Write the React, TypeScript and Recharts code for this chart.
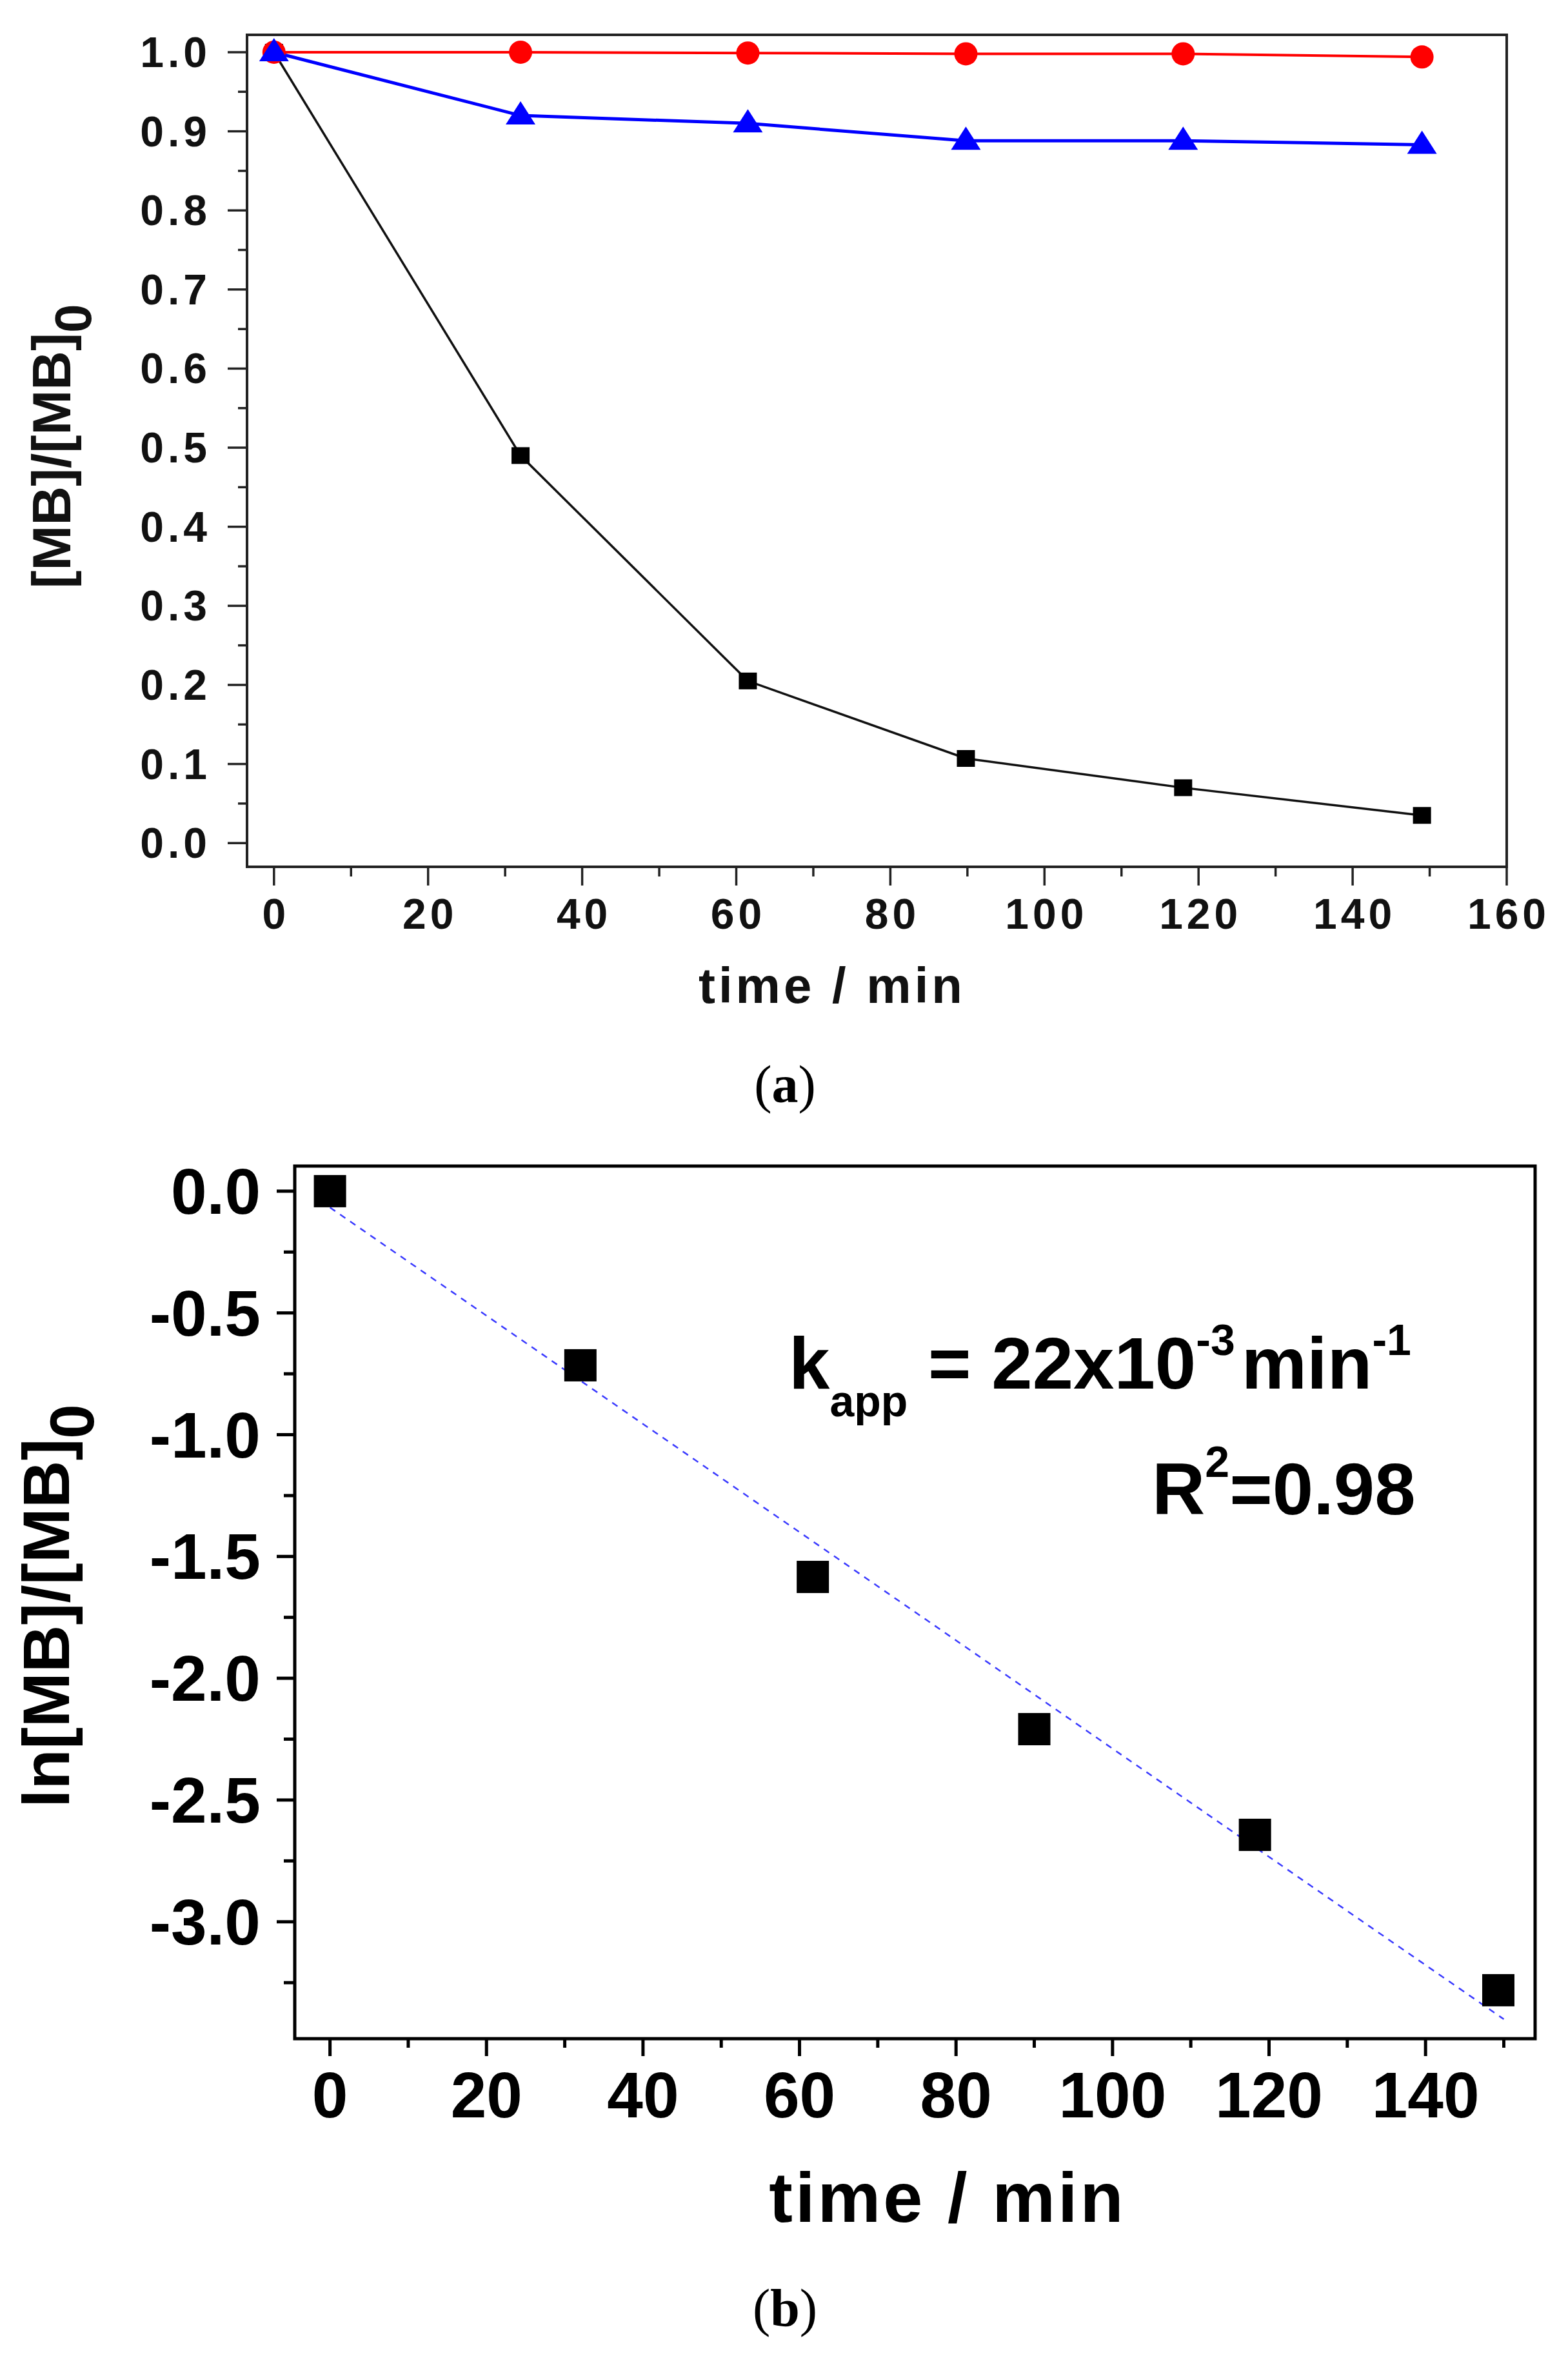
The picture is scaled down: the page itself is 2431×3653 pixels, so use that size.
import {
  LineChart,
  ComposedChart,
  Line,
  Scatter,
  XAxis,
  YAxis,
  ReferenceArea,
} from 'recharts';

// ---- panel (a): [MB]/[MB]0 vs time ----
const timeA = [0, 32, 61.5, 89.8, 118, 149];
const mbBlack = [1.0, 0.49, 0.205, 0.107, 0.07, 0.035];
const mbRed = [1.0, 1.0, 0.999, 0.998, 0.998, 0.994];
const mbBlue = [1.0, 0.92, 0.91, 0.888, 0.888, 0.883];
const xTicksA = [0, 10, 20, 30, 40, 50, 60, 70, 80, 90, 100, 110, 120, 130, 140, 150, 160];
const yTicksA = [
  0, 0.05, 0.1, 0.15, 0.2, 0.25, 0.3, 0.35, 0.4, 0.45, 0.5,
  0.55, 0.6, 0.65, 0.7, 0.75, 0.8, 0.85, 0.9, 0.95, 1.0,
];

// ---- panel (b): ln([MB]/[MB]0) vs time ----
const timeB = [0, 32, 61.7, 90, 118.2, 149.3];
const lnMb = [0, -0.715, -1.584, -2.209, -2.643, -3.281];
const fitT = [0, 150];
const fitLn = [-0.067, -3.4];
const xTicksB = [0, 10, 20, 30, 40, 50, 60, 70, 80, 90, 100, 110, 120, 130, 140, 150];
const yTicksB = [
  0, -0.25, -0.5, -0.75, -1.0, -1.25, -1.5, -1.75, -2.0,
  -2.25, -2.5, -2.75, -3.0, -3.25,
];

const dataA = timeA.map((t, i) => ({ t, black: mbBlack[i], red: mbRed[i], blue: mbBlue[i] }));
const dataB = timeB.map((t, i) => ({ t, ln: lnMb[i] }));
const fitB = fitT.map((t, i) => ({ t, ln: fitLn[i] }));

const SANS = '"Liberation Sans", Arial, sans-serif';
const SERIF = '"Liberation Serif", "Times New Roman", serif';

const domAx: [number, number] = [-3.5, 160];
const domAy: [number, number] = [-0.03, 1.022];
const domBx: [number, number] = [-4.5, 154];
const domBy: [number, number] = [-3.48, 0.103];

function XTickA(p: any) {
  const { x, y, payload } = p;
  const major = payload.value % 20 === 0;
  return (
    <g>
      <line x1={x} x2={x} y1={y} y2={y + (major ? 29 : 15)} stroke="#222" strokeWidth={3.5} />
      {major && (
        <text x={x + 3} y={y + 96} textAnchor="middle" fontFamily={SANS} fontWeight="bold"
          fontSize={66} letterSpacing={6} fill="#111">
          {payload.value}
        </text>
      )}
    </g>
  );
}

function YTickA(p: any) {
  const { x, y, payload } = p;
  const major = Math.round(payload.value * 100) % 10 === 0;
  return (
    <g>
      <line x1={x} x2={x - (major ? 30 : 14)} y1={y} y2={y} stroke="#222" strokeWidth={3.5} />
      {major && (
        <text x={x - 56} y={y + 23} textAnchor="end" fontFamily={SANS} fontWeight="bold"
          fontSize={66} letterSpacing={6} fill="#111">
          {payload.value.toFixed(1)}
        </text>
      )}
    </g>
  );
}

function XTickB(p: any) {
  const { x, y, payload } = p;
  const major = payload.value % 20 === 0;
  return (
    <g>
      <line x1={x} x2={x} y1={y} y2={y + (major ? 27 : 14)} stroke="#000" strokeWidth={5} />
      {major && (
        <text x={x} y={y + 122} textAnchor="middle" fontFamily={SANS} fontWeight="bold"
          fontSize={100} fill="#000">
          {payload.value}
        </text>
      )}
    </g>
  );
}

function YTickB(p: any) {
  const { x, y, payload } = p;
  const major = Math.round(payload.value * 100) % 50 === 0;
  return (
    <g>
      <line x1={x} x2={x - (major ? 28 : 17)} y1={y} y2={y} stroke="#000" strokeWidth={5} />
      {major && (
        <text x={x - 53} y={y + 35} textAnchor="end" fontFamily={SANS} fontWeight="bold"
          fontSize={100} fill="#000">
          {payload.value.toFixed(1)}
        </text>
      )}
    </g>
  );
}

const squareDot = (p: any) => (
  <rect key={`sq-${p.index}`} x={p.cx - 14} y={p.cy - 13} width={28} height={26} fill="#000" />
);
const circleDot = (p: any) => (
  <circle key={`ci-${p.index}`} cx={p.cx} cy={p.cy} r={18} fill="#ff0000" />
);
const triangleDot = (p: any) => (
  <polygon
    key={`tr-${p.index}`}
    points={`${p.cx},${p.cy - 22} ${p.cx - 23},${p.cy + 14} ${p.cx + 23},${p.cy + 14}`}
    fill="#0000ff"
  />
);
const bigSquare = (p: any) => (
  <rect x={p.cx - 25} y={p.cy - 25} width={50} height={50} fill="#000" />
);

export default function App() {
  return (
    <div style={{ position: 'absolute', left: 0, top: 0, width: 2431, height: 3653, background: '#fff' }}>
      {/* (a) */}
      <div style={{ position: 'absolute', left: 0, top: 0 }}>
        <LineChart width={2431} height={1750} data={dataA} margin={{ top: 54, right: 95, left: 0, bottom: 0 }}>
          <XAxis dataKey="t" type="number" domain={domAx} ticks={xTicksA} interval={0}
            axisLine={false} tickLine={false} tickSize={0} tickMargin={0} height={406} tick={<XTickA />} />
          <YAxis type="number" domain={domAy} ticks={yTicksA} interval={0}
            axisLine={false} tickLine={false} tickSize={0} tickMargin={0} width={383} tick={<YTickA />} />
          <ReferenceArea x1={domAx[0]} x2={domAx[1]} y1={domAy[0]} y2={domAy[1]}
            fill="none" stroke="#222" strokeWidth={4} ifOverflow="visible" />
          <Line dataKey="black" type="linear" stroke="#111" strokeWidth={3.5}
            dot={squareDot} activeDot={false} isAnimationActive={false} />
          <Line dataKey="red" type="linear" stroke="#ff0000" strokeWidth={4}
            dot={circleDot} activeDot={false} isAnimationActive={false} />
          <Line dataKey="blue" type="linear" stroke="#0000ff" strokeWidth={5}
            dot={triangleDot} activeDot={false} isAnimationActive={false} />
        </LineChart>
      </div>

      {/* (b) */}
      <div style={{ position: 'absolute', left: 0, top: 1750 }}>
        <ComposedChart width={2431} height={1903} margin={{ top: 58, right: 51, left: 0, bottom: 0 }}>
          <XAxis dataKey="t" type="number" domain={domBx} ticks={xTicksB} interval={0}
            axisLine={false} tickLine={false} tickSize={0} tickMargin={0} height={492} tick={<XTickB />} />
          <YAxis type="number" domain={domBy} ticks={yTicksB} interval={0}
            axisLine={false} tickLine={false} tickSize={0} tickMargin={0} width={457} tick={<YTickB />} />
          <ReferenceArea x1={domBx[0]} x2={domBx[1]} y1={domBy[0]} y2={domBy[1]}
            fill="none" stroke="#000" strokeWidth={5} ifOverflow="visible" />
          <Scatter data={dataB} dataKey="ln" shape={bigSquare} isAnimationActive={false} />
          <Line data={fitB} dataKey="ln" type="linear" stroke="#3a3aff" strokeWidth={2.5}
            strokeDasharray="10 9" dot={false} activeDot={false} isAnimationActive={false} />
        </ComposedChart>
      </div>

      {/* labels */}
      <svg width={2431} height={3653} style={{ position: 'absolute', left: 0, top: 0, pointerEvents: 'none' }}>
        <text transform="translate(109,692) rotate(-90)" textAnchor="middle" fontFamily={SANS}
          fontWeight="bold" fontSize={84} fill="#111">
          [MB]/[MB]<tspan fontSize={80} dy={32}>0</tspan>
        </text>
        <text x={1290} y={1555} textAnchor="middle" fontFamily={SANS} fontWeight="bold"
          fontSize={78} letterSpacing={5} fill="#111">
          time / min
        </text>
        <text x={1217} y={1709} textAnchor="middle" fontFamily={SERIF} fontSize={82} fill="#000">
          (<tspan fontWeight="bold">a</tspan>)
        </text>

        <text transform="translate(107,2490) rotate(-90)" textAnchor="middle" fontFamily={SANS}
          fontWeight="bold" fontSize={102} fill="#000">
          ln[MB]/[MB]<tspan fontSize={96} dy={38}>0</tspan>
        </text>
        <text x={1469} y={3445} textAnchor="middle" fontFamily={SANS} fontWeight="bold"
          fontSize={110} letterSpacing={4} fill="#000">
          time / min
        </text>
        <text x={1223} y={2153} fontFamily={SANS} fontWeight="bold" fontSize={114} fill="#000">
          k
          <tspan fontSize={68} dy={43}>app</tspan>
          <tspan dy={-43}> = 22x10</tspan>
          <tspan fontSize={68} dy={-52}>-3</tspan>
          <tspan dx={10} dy={52}>min</tspan>
          <tspan fontSize={68} dy={-52}>-1</tspan>
        </text>
        <text x={1786} y={2348} fontFamily={SANS} fontWeight="bold" fontSize={114} fill="#000">
          R
          <tspan fontSize={68} dy={-58}>2</tspan>
          <tspan dy={58}>=0.98</tspan>
        </text>
        <text x={1217} y={3606} textAnchor="middle" fontFamily={SERIF} fontSize={82} fill="#000">
          (<tspan fontWeight="bold">b</tspan>)
        </text>
      </svg>
    </div>
  );
}
